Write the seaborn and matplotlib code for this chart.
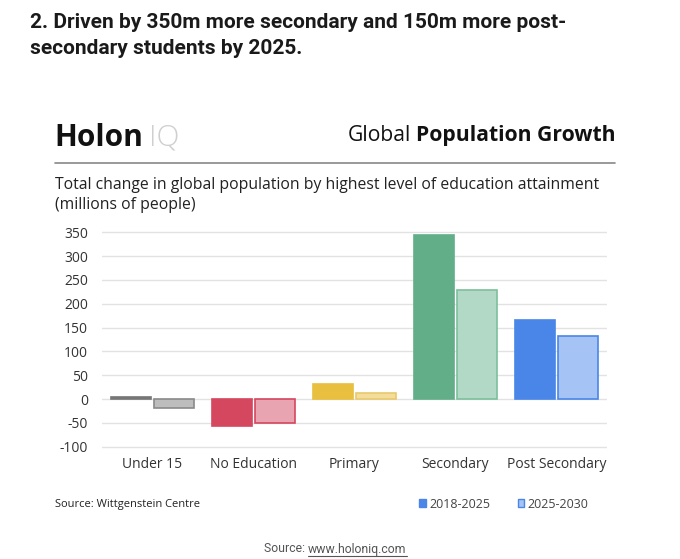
import matplotlib
matplotlib.use("Agg")
import matplotlib.pyplot as plt
from matplotlib.patches import Patch
import seaborn as sns
import pandas as pd

categories = ["Under 15", "No Education", "Primary", "Secondary", "Post Secondary"]
periods = ["2018-2025", "2025-2030"]
values_2018_2025 = [5, -57, 32, 344, 166]
values_2025_2030 = [-19, -51, 12, 230, 132]
yticks = [-100, -50, 0, 50, 100, 150, 200, 250, 300, 350]

dark_colors = ["#767676", "#d4475f", "#e8bf3e", "#62ae88", "#4a86e8"]
light_colors = ["#bdbdbd", "#e9a4b1", "#f4dd9b", "#b2d9c5", "#a5c3f4"]
edge_light = ["#8a8a8a", "#d4475f", "#e8c96a", "#7cbf9c", "#4a86e8"]

df = pd.DataFrame({
    "category": categories * 2,
    "period": [periods[0]] * 5 + [periods[1]] * 5,
    "value": values_2018_2025 + values_2025_2030,
})

sns.set_theme(style="white")
FONT = "Open Sans"
plt.rcParams["font.family"] = [FONT, "DejaVu Sans"]

W, H = 680, 559
fig = plt.figure(figsize=(W / 100, H / 100), dpi=100)
fig.patch.set_facecolor("white")

def fx(px):
    return px / W

def fy(py):
    return 1 - py / H

ax = fig.add_axes([fx(102), fy(449), fx(607) - fx(102), (449 - 230) / H])
sns.barplot(data=df, x="category", y="value", hue="period", order=categories,
            hue_order=periods, width=0.85, gap=0.08, ax=ax, legend=False,
            errorbar=None)

n = len(categories)
for i, p in enumerate(ax.patches[:2 * n]):
    k = i % n
    if i < n:
        p.set_facecolor(dark_colors[k])
        p.set_edgecolor(dark_colors[k])
    else:
        p.set_facecolor(light_colors[k])
        p.set_edgecolor(edge_light[k])
    p.set_linewidth(1.2)

ax.set_ylim(-105, 355)
ax.set_yticks(yticks)
ax.set_yticklabels([str(v) for v in yticks], fontsize=10, color="#333333")
ax.set_xticks(range(n))
ax.set_xticklabels(categories, fontsize=10, color="#333333")
ax.set_xlabel("")
ax.set_ylabel("")
ax.yaxis.grid(True, color="#e2e2e2", linewidth=1)
ax.set_axisbelow(True)
for s in ax.spines.values():
    s.set_visible(False)
ax.tick_params(axis="both", length=0)
ax.tick_params(axis="y", pad=10)
ax.tick_params(axis="x", pad=6)

# Headline
fig.text(fx(30), fy(23), "2. Driven by 350m more secondary and 150m more post-",
         fontsize=15, fontweight="bold", color="#1a1a1a", va="center",
         family=["Roboto", "DejaVu Sans"])
fig.text(fx(30), fy(49), "secondary students by 2025.",
         fontsize=15, fontweight="bold", color="#1a1a1a", va="center",
         family=["Roboto", "DejaVu Sans"])

# Logo
holon = fig.text(fx(54), fy(146), "Holon", fontsize=21.5, fontweight="bold",
                 color="#111111", va="baseline")
fig.canvas.draw()
r = fig.canvas.get_renderer()
bb = holon.get_window_extent(r)
fig.text((bb.x1 + 6) / W, fy(146), "IQ", fontsize=21.5, fontweight="light",
         color="#cfcfcf", va="baseline")

# Right title
bold = fig.text(fx(615), fy(141), "Population Growth", fontsize=15.2,
                fontweight="bold", color="#111111", va="baseline", ha="right")
bb2 = bold.get_window_extent(r)
fig.text((bb2.x0 - 4) / W, fy(141), "Global", fontsize=15.2,
         color="#111111", va="baseline", ha="right")

# Rule
fig.add_artist(plt.Line2D([fx(55), fx(615)], [fy(163), fy(163)],
                          color="#888888", linewidth=1.2))

# Subtitle
fig.text(fx(55), fy(185), "Total change in global population by highest level of education attainment",
         fontsize=11.3, color="#222222", va="center")
fig.text(fx(55), fy(205), "(millions of people)", fontsize=11.3,
         color="#222222", va="center")

# Footer
fig.text(fx(55), fy(505), "Source: Wittgenstein Centre", fontsize=8,
         color="#222222", va="center")
handles = [Patch(facecolor="#4a86e8", edgecolor="#4a86e8"),
           Patch(facecolor="#a5c3f4", edgecolor="#4a86e8")]
fig.legend(handles, periods, loc="center left", bbox_to_anchor=(fx(419), fy(504)),
           ncol=2, frameon=False, handlelength=0.55, handleheight=0.55,
           handletextpad=0.25, columnspacing=2.2, fontsize=9,
           labelcolor="#444444", borderaxespad=0, borderpad=0)

t1 = fig.text(fx(264), fy(549), "Source: ", fontsize=8.8, color="#555555",
              va="center", family=["Roboto", "DejaVu Sans"])
bb3 = t1.get_window_extent(r)
t2 = fig.text(bb3.x1 / W, fy(549), "www.holoniq.com", fontsize=8.8,
              color="#555555", va="center", family=["Roboto", "DejaVu Sans"])
bb4 = t2.get_window_extent(r)
fig.add_artist(plt.Line2D([bb4.x0 / W, bb4.x1 / W], [fy(556), fy(556)],
                          color="#555555", linewidth=0.8))

fig.savefig("out.png", dpi=100, facecolor="white")
